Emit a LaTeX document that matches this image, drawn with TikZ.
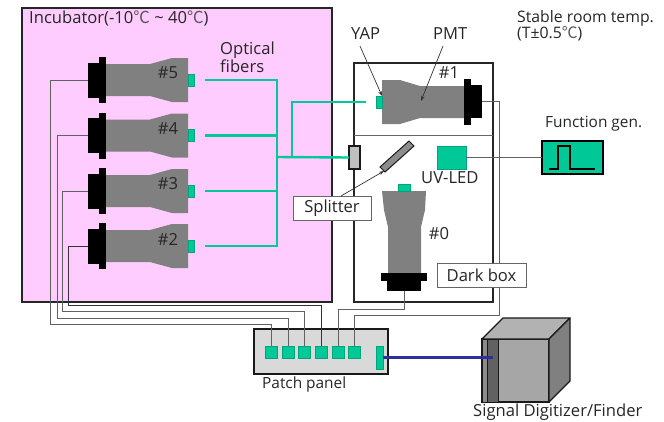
\documentclass[tikz,border=0pt]{standalone}
\usepackage{fontspec}
\setmainfont{Open Sans}
\newfontfamily\cjk{Noto Sans CJK JP}
\newcommand{\degC}{{\cjk\color{black!65}℃}}
\definecolor{incub}{HTML}{FFCCFF}
\definecolor{teal}{HTML}{00C896}
\definecolor{tealdk}{HTML}{00A47C}
\definecolor{pmtgray}{HTML}{808080}
\definecolor{bluewire}{HTML}{2E2E9C}
\usetikzlibrary{arrows.meta}
\tikzset{
  x=1pt,y=-1pt,
  frame/.style={draw=black!85,line width=1.5pt},
  rbox/.style={anchor=north west,inner sep=0pt,outer sep=0pt},
  tealbox/.style={rbox,fill=teal,draw=tealdk,line width=0.8pt},
  blackbox/.style={rbox,fill=black},
  wire/.style={draw=black!62,line width=1pt},
  fiber/.style={draw=teal,line width=2.4pt},
  lbl/.style={font=\fontsize{16.6}{15.5}\selectfont,inner sep=0pt,text=black!85},
  lblsm/.style={lbl,font=\fontsize{15.4}{15.5}\selectfont},
  tag/.style={rbox,draw=black!60,fill=white,line width=1pt},
  pointer/.style={draw=black!80,line width=0.7pt,-{Stealth[length=5pt,width=3.5pt]}},
}
\newcommand{\pmtrow}[3]{% name, y centre, label
  \fill[pmtgray] (106,#2-16) -- (150,#2-16) -- (172,#2-22) -- (188,#2-22) -- (188,#2+22) -- (172,#2+22) -- (150,#2+16) -- (106,#2+16) -- cycle;
  \node[blackbox,minimum width=7pt,minimum height=46pt] (fl#1) at (99,#2-23) {};
  \node[blackbox,minimum width=11pt,minimum height=35pt] (b#1) at (88,#2-17.5) {};
  \node[tealbox,minimum width=6pt,minimum height=12pt] (y#1) at (188,#2-6) {};
  \node[lbl] (h#1) at (168,#2-7) {\##3};
}
\newcommand{\portbox}[2]{\node[tealbox,minimum width=12pt,minimum height=12pt] (#1) at (#2,346) {};}
\begin{document}
\begin{tikzpicture}
\useasboundingbox (0,0) rectangle (664,421);
% enclosures
\node[rbox,frame,fill=incub,minimum width=310pt,minimum height=294pt] (incubator) at (22,8) {};
\node[rbox,frame,minimum width=139pt,minimum height=239pt] (darkbox) at (354,63) {};
\coordinate (divL) at (354,135);
\coordinate (divR) at (493,135);
\draw[draw=black!60,line width=1pt] (divL) -- (divR);
% PMTs in incubator
\pmtrow{5}{80}{5}
\pmtrow{4}{135.5}{4}
\pmtrow{3}{191}{3}
\pmtrow{2}{246}{2}
% PMT 1
\fill[pmtgray] (382,80) -- (400,80) -- (420,86) -- (464,86) -- (464,118) -- (420,118) -- (400,124) -- (382,124) -- cycle;
\node[blackbox,minimum width=7pt,minimum height=46pt] (fl1) at (464,79) {};
\node[blackbox,minimum width=11pt,minimum height=33pt] (b1) at (471,85) {};
\node[tealbox,minimum width=6pt,minimum height=12pt] (y1) at (376,96) {};
\coordinate (pmt1mid) at (421,101);
% PMT 0
\fill[pmtgray] (382,191) -- (426,191) -- (425,210) -- (421,227) -- (421,273) -- (388,273) -- (388,227) -- (384,210) -- cycle;
\node[tealbox,minimum width=12pt,minimum height=7pt] (y0) at (398,184) {};
\node[blackbox,minimum width=46pt,minimum height=8pt] (fl0) at (381,273) {};
\node[blackbox,minimum width=34pt,minimum height=11pt] (b0) at (387,280) {};
% splitter, mirror, LED
\node[rbox,fill=black!25,draw=black!90,line width=1.2pt,minimum width=11pt,minimum height=23pt] (split) at (349,146) {};
\fill[black!45,draw=black!90,line width=1pt] (380,167) -- (409,141) -- (414,146) -- (385,172) -- cycle;
\coordinate (mirror) at (384,171);
\node[tealbox,minimum width=29pt,minimum height=23pt] (led) at (437,146) {};
% function generator
\node[rbox,fill=teal,draw=black,line width=1.3pt,minimum width=61pt,minimum height=33pt] (fgen) at (542,141) {};
\draw[black,line width=1.3pt] (549,169) -- (558,169) -- (558,146) -- (570,146) -- (570,169) -- (595,169);
\draw[wire] (led.east) -- (fgen.west);
% patch panel
\node[rbox,fill=black!15,draw=black!90,line width=1.3pt,minimum width=134pt,minimum height=45pt] (panel) at (254,329) {};
\portbox{p5}{265}
\portbox{p4}{282}
\portbox{p3}{298}
\portbox{p2}{315}
\portbox{p0}{332}
\portbox{p1}{348}
\node[tealbox,minimum width=7pt,minimum height=23pt] (pout) at (376,346) {};
% wires
\coordinate (w5) at (50,324.5);
\coordinate (w4) at (57,318);
\coordinate (w3) at (62,311);
\coordinate (w2) at (68,305.5);
\coordinate (w0) at (404,309);
\coordinate (w1) at (499,315);
\draw[wire] (b5.west) -| (w5) -| (p5.north);
\draw[wire] (b4.west) -| (w4) -| (p4.north);
\draw[wire] (b3.west) -| (w3) -| (p3.north);
\draw[wire,draw=black!80] (b2.west) -| (w2) -| (p2.north);
\draw[wire] (b0.south) |- (w0) -| (p0.north);
\draw[wire] (b1.east) -| (w1) -| (p1.north);
% fibers
\coordinate (f5) at (205,80);
\coordinate (f4) at (205,135.5);
\coordinate (f3) at (205,191);
\coordinate (f2) at (205,246);
\coordinate (t5) at (277,80);
\coordinate (t4) at (277,135.5);
\coordinate (t3) at (277,191);
\coordinate (t2) at (277,246);
\coordinate (j1) at (277,157);
\coordinate (j2) at (292,157);
\coordinate (f1) at (366,102);
\draw[fiber] (f5) -- (t5) -- (t2) -- (f2);
\draw[fiber] (f4) -- (t4);
\draw[fiber] (f3) -- (t3);
\draw[fiber] (j1) -- (split.west);
\draw[fiber] (j2) |- (f1);
% digitizer
\node[rbox,fill=black!35,draw=black!90,line width=1.2pt,minimum width=67pt,minimum height=63pt] (digi) at (482,339) {};
\fill[black!30,draw=black!90,line width=1.2pt,line join=round] (digi.north west) -- (503,318) -- (570,318) -- (digi.north east) -- cycle;
\fill[black!50,draw=black!90,line width=1.2pt,line join=round] (digi.north east) -- (570,318) -- (570,381) -- (digi.south east) -- cycle;
\node[rbox,fill=black!45,draw=black!90,line width=1pt,minimum width=5pt,minimum height=63pt] (digiL) at (482,339) {};
\node[rbox,fill=black!62,draw=black!90,line width=1pt,minimum width=11pt,minimum height=63pt] (digiS) at (487,339) {};
\coordinate (bluend) at (493,357);
\draw[draw=bluewire,line width=3pt] (pout.east |- bluend) -- (bluend);
% tags
\node[tag,minimum width=78pt,minimum height=24pt] (splittag) at (293,196) {};
\node[lbl] at (splittag.center) {Splitter};
\node[tag,minimum width=89pt,minimum height=24pt] (darktag) at (437,263) {};
\node[lbl] at (darktag.center) {Dark box};
\draw[pointer] (splittag.north east) ++(-30,0) coordinate (st) (st) -- (mirror);
% labels
\node[lbl,anchor=west] (tinc) at (29,18) {Incubator(-10\degC\ \textasciitilde\ 40\degC)};
\node[lbl,anchor=north west,align=left] (topt) at (220,42) {Optical\\fibers};
\node[lbl,anchor=west] (tyap) at (351,34) {YAP};
\node[lbl,anchor=west] (tpmt) at (433,34) {PMT};
\node[lbl,anchor=north west,align=left,font=\fontsize{15.8}{16}\selectfont] (troom) at (517,10) {Stable room temp.\\(T±0.5\degC)};
\node[lbl] (h1) at (449,73) {\#1};
\node[lbl] (h0) at (439,234) {\#0};
\node[lblsm,anchor=west] (tfg) at (545,124) {Function gen.};
\node[lbl,anchor=west] (tuv) at (421,178) {UV-LED};
\node[lblsm,anchor=west] (tpp) at (262,384) {Patch panel};
\node[lbl,anchor=west] (tsd) at (473,412) {Signal Digitizer/Finder};
\coordinate (yapfrom) at (360,46);
\coordinate (pmtfrom) at (443,46);
\draw[pointer] (yapfrom) -- (y1.north east);
\draw[pointer] (pmtfrom) -- (pmt1mid);
\end{tikzpicture}
\end{document}
